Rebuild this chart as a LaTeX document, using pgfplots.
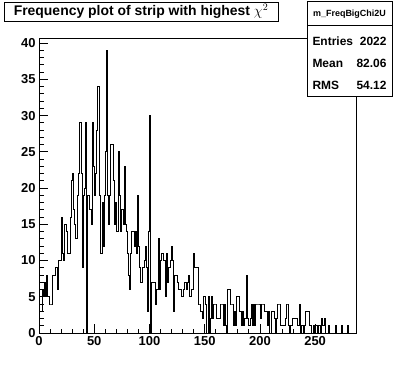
\documentclass[border=0pt]{standalone}
\usepackage{fontspec}
\setmainfont{Liberation Sans}
\usepackage{pgfplots}
\pgfplotsset{compat=1.18}

\begin{document}
\begin{tikzpicture}[x=1bp,y=1bp]
\useasboundingbox (0,0) rectangle (396,372);

\begin{axis}[
  at={(39bp,39bp)}, anchor=south west,
  scale only axis, width=317bp, height=295bp,
  xmin=0, xmax=287, ymin=0, ymax=40.7,
  axis line style={line width=0.8bp},
  tick align=inside, tick pos=left,
  xtick={0,50,...,250}, ytick={0,5,...,40},
  minor x tick num=4, minor y tick num=4,
  major tick length=9bp, minor tick length=4.5bp,
  tick style={black, line width=0.8bp},
  ticklabel style={font=\fontsize{13}{15}\selectfont\bfseries},
  /pgf/number format/assume math mode=true,
]
\addplot [const plot, black, line width=0.8bp, mark=none]
table [row sep=\\] {
x y\\
0 3\\ 1 3\\ 2 3\\ 3 6\\ 4 5\\ 5 7\\ 6 5\\ 7 8\\ 8 5\\ 9 4\\
10 4\\ 11 4\\ 12 8\\ 13 8\\ 14 8\\ 15 9\\ 16 9\\ 17 6\\ 18 10\\ 19 10\\
20 16\\ 21 11\\ 22 10\\ 23 15\\ 24 15\\ 25 14\\ 26 11\\ 27 11\\ 28 16\\ 29 21\\
30 22\\ 31 17\\ 32 15\\ 33 13\\ 34 13\\ 35 19\\ 36 22\\ 37 29\\ 38 22\\ 39 9\\
40 19\\ 41 20\\ 42 29\\ 43 0\\ 44 19\\ 45 19\\ 46 17\\ 47 15\\ 48 29\\ 49 23\\
50 19\\ 51 22\\ 52 28\\ 53 34\\ 54 34\\ 55 19\\ 56 11\\ 57 18\\ 58 12\\ 59 19\\
60 25\\ 61 39\\ 62 19\\ 63 15\\ 64 19\\ 65 26\\ 66 26\\ 67 21\\ 68 15\\ 69 18\\
70 14\\ 71 14\\ 72 25\\ 73 19\\ 74 14\\ 75 17\\ 76 15\\ 77 23\\ 78 15\\ 79 14\\
80 11\\ 81 8\\ 82 6\\ 83 11\\ 84 14\\ 85 14\\ 86 12\\ 87 14\\ 88 11\\ 89 19\\
90 12\\ 91 9\\ 92 7\\ 93 7\\ 94 9\\ 95 10\\ 96 12\\ 97 9\\ 98 3\\ 99 14\\
100 30\\ 101 0\\ 102 7\\ 103 7\\ 104 7\\ 105 4\\ 106 6\\ 107 6\\ 108 13\\ 109 6\\
110 10\\ 111 11\\ 112 11\\ 113 10\\ 114 5\\ 115 11\\ 116 7\\ 117 9\\ 118 9\\ 119 10\\
120 12\\ 121 10\\ 122 3\\ 123 8\\ 124 8\\ 125 7\\ 126 6\\ 127 6\\ 128 6\\ 129 5\\
130 5\\ 131 6\\ 132 7\\ 133 6\\ 134 7\\ 135 8\\ 136 5\\ 137 5\\ 138 6\\ 139 6\\
140 11\\ 141 9\\ 142 9\\ 143 9\\ 144 4\\ 145 4\\ 146 3\\ 147 3\\ 148 2\\ 149 5\\
150 5\\ 151 4\\ 152 0\\ 153 5\\ 154 0\\ 155 2\\ 156 5\\ 157 2\\ 158 4\\ 159 4\\
160 4\\ 161 2\\ 162 2\\ 163 2\\ 164 4\\ 165 4\\ 166 4\\ 167 1\\ 168 4\\ 169 1\\
170 0\\ 171 6\\ 172 6\\ 173 4\\ 174 4\\ 175 4\\ 176 1\\ 177 3\\ 178 1\\ 179 5\\
180 5\\ 181 3\\ 182 3\\ 183 1\\ 184 3\\ 185 1\\ 186 2\\ 187 2\\ 188 8\\ 189 2\\
190 1\\ 191 2\\ 192 4\\ 193 1\\ 194 4\\ 195 1\\ 196 4\\ 197 4\\ 198 4\\ 199 4\\
200 2\\ 201 4\\ 202 4\\ 203 4\\ 204 3\\ 205 3\\ 206 3\\ 207 1\\ 208 3\\ 209 0\\
210 3\\ 211 3\\ 212 3\\ 213 2\\ 214 0\\ 215 2\\ 216 4\\ 217 4\\ 218 4\\ 219 1\\
220 1\\ 221 1\\ 222 1\\ 223 2\\ 224 4\\ 225 4\\ 226 1\\ 227 0\\ 228 1\\ 229 2\\
230 2\\ 231 2\\ 232 2\\ 233 2\\ 234 1\\ 235 1\\ 236 4\\ 237 0\\ 238 1\\ 239 0\\
240 1\\ 241 3\\ 242 3\\ 243 3\\ 244 3\\ 245 1\\ 246 1\\ 247 0\\ 248 1\\ 249 0\\
250 1\\ 251 1\\ 252 0\\ 253 1\\ 254 1\\ 255 0\\ 256 2\\ 257 1\\ 258 2\\ 259 0\\
260 0\\ 261 0\\ 262 1\\ 263 0\\ 264 0\\ 265 0\\ 266 0\\ 267 0\\ 268 1\\ 269 0\\
270 0\\ 271 0\\ 272 0\\ 273 0\\ 274 1\\ 275 0\\ 276 0\\ 277 0\\ 278 0\\ 279 1\\
280 0\\ 281 0\\ 282 0\\ 283 0\\ 284 0\\ 285 0\\ 286 0\\ 287 0\\
};
\end{axis}

% title box
\draw[line width=0.8bp, fill=white] (4,351) rectangle (278,370);
\node at (141,360.5) {\fontsize{14}{16}\selectfont\bfseries Frequency plot of strip with highest $\chi^{2}$};

% statistics box
\draw[line width=0.8bp, fill=white] (307,276) rectangle (392,371);
\draw[line width=0.8bp] (307,347) -- (392,347);
\node at (349.5,358) {\fontsize{9}{11}\selectfont\bfseries m\_FreqBigChi2U};
\begin{scope}[every node/.style={font=\fontsize{12}{14}\selectfont\bfseries}]
\node[anchor=west] at (309,331) {Entries};
\node[anchor=east] at (390,331) {2022};
\node[anchor=west] at (309,309) {Mean};
\node[anchor=east] at (390,309) {82.06};
\node[anchor=west] at (309,287) {RMS};
\node[anchor=east] at (390,287) {54.12};
\end{scope}
\end{tikzpicture}
\end{document}
